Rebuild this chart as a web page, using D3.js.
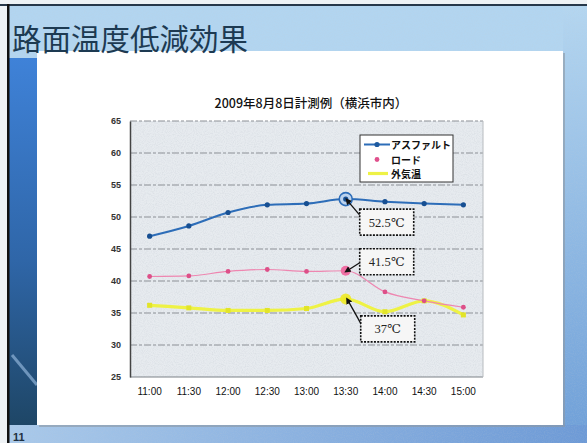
<!DOCTYPE html>
<html><head><meta charset="utf-8">
<script src="https://cdn.jsdelivr.net/npm/d3@7"></script>
<style>html,body{margin:0;padding:0;background:#fff;}svg{display:block;}</style>
</head><body>
<script>
const categories = ["11:00","11:30","12:00","12:30","13:00","13:30","14:00","14:30","15:00"];
const asphalt = [47.0, 48.6, 50.7, 51.9, 52.1, 52.8, 52.4, 52.1, 51.9];
const road    = [40.7, 40.8, 41.5, 41.8, 41.5, 41.6, 38.3, 36.9, 35.9];
const airTemp = [36.2, 35.8, 35.4, 35.4, 35.7, 37.2, 35.2, 36.9, 34.7];
const yTicks = [25, 30, 35, 40, 45, 50, 55, 60, 65];
const seriesNames = ["アスファルト", "ロード", "外気温"];
const callouts = [
  {series: 0, index: 5, label: "52.5℃"},
  {series: 1, index: 5, label: "41.5℃"},
  {series: 2, index: 5, label: "37℃"}
];
const slideTitle = "路面温度低減効果";
const chartTitle = "2009年8月8日計測例（横浜市内）";
const pageNumber = "11";

const W = 587, H = 443;
const svg = d3.select("body").append("svg").attr("width", W).attr("height", H);
const defs = svg.append("defs");

const noise = defs.append("filter").attr("id","noise").attr("x",0).attr("y",0).attr("width","100%").attr("height","100%");
noise.append("feTurbulence").attr("type","fractalNoise").attr("baseFrequency","0.9").attr("numOctaves",2).attr("seed",3).attr("result","t");
noise.append("feColorMatrix").attr("in","t").attr("type","matrix")
  .attr("values","0 0 0 0 0.55  0 0 0 0 0.6  0 0 0 0 0.65  0 0 0 0.9 -0.35").attr("result","n");
noise.append("feComposite").attr("in","n").attr("in2","SourceGraphic").attr("operator","in");

const lg = defs.append("linearGradient").attr("id","leftband").attr("x1",0).attr("y1",0).attr("x2",0).attr("y2",1);
lg.append("stop").attr("offset","0%").attr("stop-color","#3f82d8");
lg.append("stop").attr("offset","55%").attr("stop-color","#2f66a8");
lg.append("stop").attr("offset","100%").attr("stop-color","#1e4666");

const rg = defs.append("linearGradient").attr("id","rightband").attr("x1",0).attr("y1",0).attr("x2",0).attr("y2",1);
rg.append("stop").attr("offset","0%").attr("stop-color","#b4d6f0");
rg.append("stop").attr("offset","100%").attr("stop-color","#6e9fd8");

const bg = defs.append("linearGradient").attr("id","bottomband").attr("x1",0).attr("y1",0).attr("x2",1).attr("y2",0);
bg.append("stop").attr("offset","0%").attr("stop-color","#a9c9ea");
bg.append("stop").attr("offset","100%").attr("stop-color","#6d9ad6");

svg.append("rect").attr("width",W).attr("height",H).attr("fill","#eef2f5");
svg.append("rect").attr("x",9).attr("y",5).attr("width",W-9).attr("height",H-5).attr("fill","#b2d5f0");
svg.append("rect").attr("x",563).attr("y",5).attr("width",24).attr("height",H-5).attr("fill","url(#rightband)");
svg.append("rect").attr("x",9).attr("y",425).attr("width",W-9).attr("height",18).attr("fill","url(#bottomband)");
svg.append("rect").attr("x",9).attr("y",5).attr("width",W-9).attr("height",H-5).attr("fill","#ffffff").attr("filter","url(#noise)").attr("opacity",0.35);
svg.append("rect").attr("x",9).attr("y",58).attr("width",28).attr("height",367).attr("fill","url(#leftband)");
svg.append("line").attr("x1",12).attr("y1",355).attr("x2",37).attr("y2",385).attr("stroke","#8fb3d8").attr("stroke-width",3).attr("opacity",0.7);
svg.append("rect").attr("x",0).attr("y",4).attr("width",W).attr("height",2).attr("fill","#27384a");
svg.append("rect").attr("x",7).attr("y",4).attr("width",2.5).attr("height",H-4).attr("fill","#111");

svg.append("rect").attr("x",39).attr("y",53).attr("width",526).attr("height",374).attr("fill","#8c98a4").attr("opacity",0.6);
svg.append("rect").attr("x",37).attr("y",51).attr("width",526).attr("height",374).attr("fill","#ffffff");

svg.append("text").attr("x",12).attr("y",50).text(slideTitle)
  .attr("font-family","'Noto Sans CJK JP', sans-serif").attr("font-size",29.5).attr("font-weight",400)
  .attr("fill","#1d3a52");

svg.append("text").attr("x",13).attr("y",441).text(pageNumber)
  .attr("font-family","Liberation Sans, Arial, sans-serif").attr("font-size",11).attr("font-weight","bold").attr("fill","#1f3040");

const plot = {left:130, right:483, top:121, bottom:377};
const x = d3.scaleBand().domain(categories).range([plot.left, plot.right]);
const y = d3.scaleLinear().domain([25,65]).range([plot.bottom, plot.top]);
const cx = d => x(d) + x.bandwidth()/2;

svg.append("text").attr("x",311).attr("y",108).attr("text-anchor","middle").text(chartTitle)
  .attr("font-family","'Noto Sans CJK JP', sans-serif").attr("font-size",12.5).attr("font-weight",500).attr("fill","#111");

svg.append("rect").attr("x",plot.left).attr("y",plot.top).attr("width",plot.right-plot.left).attr("height",plot.bottom-plot.top)
  .attr("fill","#e7ebef");
svg.append("rect").attr("x",plot.left).attr("y",plot.top).attr("width",plot.right-plot.left).attr("height",plot.bottom-plot.top)
  .attr("fill","#ffffff").attr("filter","url(#noise)").attr("opacity",0.8);

svg.append("g").selectAll("line").data(yTicks.filter(v => v > 25)).join("line")
  .attr("x1",plot.left).attr("x2",plot.right).attr("y1",d=>y(d)).attr("y2",d=>y(d))
  .attr("stroke","#8b9096").attr("stroke-width",1.2).attr("stroke-dasharray","7,2,3,2");
svg.append("line").attr("x1",plot.left).attr("x2",plot.right).attr("y1",plot.bottom).attr("y2",plot.bottom)
  .attr("stroke","#7d8288").attr("stroke-width",1.2);
svg.append("line").attr("x1",plot.right).attr("x2",plot.right).attr("y1",plot.top).attr("y2",plot.bottom)
  .attr("stroke","#b8bcc0").attr("stroke-width",1);

const yAxis = svg.append("g").attr("transform",`translate(${plot.left},0)`)
  .call(d3.axisLeft(y).tickValues(yTicks).tickSize(0).tickPadding(9));
yAxis.select(".domain").attr("stroke","#444").attr("stroke-width",1.5);
yAxis.selectAll("text").attr("font-family","Liberation Sans, Arial, sans-serif").attr("font-size",9).attr("font-weight","bold").attr("fill","#333");

const xAxis = svg.append("g").attr("transform",`translate(0,${plot.bottom})`)
  .call(d3.axisBottom(x).tickSize(0).tickPadding(11));
xAxis.select(".domain").remove();
xAxis.selectAll("text").attr("font-family","Liberation Sans, Arial, sans-serif").attr("font-size",10).attr("fill","#111");

const series = [
  {name: seriesNames[0], values: asphalt, color:"#2d6db8", width:2, dot:"#1d5aa0"},
  {name: seriesNames[1], values: road,    color:"#ee86b0", width:1.2, dot:"#e0508c"},
  {name: seriesNames[2], values: airTemp, color:"#eef245", width:3.2, dot:"#e6e82a"}
];
const line = d3.line().x((d,i)=>cx(categories[i])).y(d=>y(d)).curve(d3.curveMonotoneX);

series.slice().reverse().forEach((s) => {
  svg.append("path").datum(s.values).attr("d", line).attr("fill","none")
    .attr("stroke", s.color).attr("stroke-width", s.width).attr("stroke-linejoin","round");
});
svg.append("g").selectAll("rect").data(airTemp).join("rect")
  .attr("x",(d,i)=>cx(categories[i])-2.5).attr("y",d=>y(d)-2.5).attr("width",5).attr("height",5)
  .attr("fill","#e2e428");
svg.append("g").selectAll("circle").data(road).join("circle")
  .attr("cx",(d,i)=>cx(categories[i])).attr("cy",d=>y(d)).attr("r",2.4).attr("fill","#dd4f88");
svg.append("g").selectAll("circle").data(asphalt).join("circle")
  .attr("cx",(d,i)=>cx(categories[i])).attr("cy",d=>y(d)).attr("r",2.6).attr("fill","#174f92");

const hi = callouts.map(c => ({...c, px: cx(categories[c.index]), py: y(series[c.series].values[c.index])}));
svg.append("circle").attr("cx",hi[2].px).attr("cy",hi[2].py).attr("r",5.5).attr("fill","#eeea28").attr("opacity",0.9);
svg.append("circle").attr("cx",hi[1].px).attr("cy",hi[1].py).attr("r",5).attr("fill","#ef6fa4");
svg.append("circle").attr("cx",hi[0].px).attr("cy",hi[0].py).attr("r",6.5).attr("fill","#bcd3ee").attr("stroke","#2d6db8").attr("stroke-width",1.6);
svg.append("circle").attr("cx",hi[0].px).attr("cy",hi[0].py).attr("r",2.6).attr("fill","#174f92");

const boxOffsets = [
  {dx: 14, dy: 10, lx: 14, ly: 16},
  {dx: 14, dy: -22, lx: 14, ly: -8},
  {dx: 15, dy: 17, lx: 17, ly: 28}
];
defs.append("marker").attr("id","arr").attr("viewBox","0 0 10 10").attr("refX",2).attr("refY",5)
  .attr("markerWidth",5).attr("markerHeight",5).attr("orient","auto-start-reverse")
  .append("path").attr("d","M0,0 L10,5 L0,10 z").attr("fill","#111");
hi.forEach((h,k) => {
  const o = boxOffsets[k];
  const bx = h.px + o.dx, by = h.py + o.dy;
  svg.append("line").attr("x1",h.px+3).attr("y1",h.py + (o.ly>0?3:-1)).attr("x2",h.px+o.lx).attr("y2",h.py+o.ly)
    .attr("stroke","#111").attr("stroke-width",1.3).attr("marker-start","url(#arr)");
  svg.append("rect").attr("x",bx).attr("y",by).attr("width",54).attr("height",26)
    .attr("fill","#f6f6f6").attr("stroke","#111").attr("stroke-width",1.6).attr("stroke-dasharray","2,1.3");
  svg.append("text").attr("x",bx+27).attr("y",by+17.5).attr("text-anchor","middle").text(h.label)
    .attr("font-family","'Liberation Serif', 'DejaVu Serif', serif").attr("font-size",12.5).attr("fill","#222");
});

const leg = svg.append("g").attr("transform","translate(360,135)");
leg.append("rect").attr("width",93).attr("height",47).attr("fill","#ffffff").attr("stroke","#333").attr("stroke-width",1);
const rows = [9.5, 24.5, 38.5];
leg.append("line").attr("x1",4).attr("x2",30).attr("y1",rows[0]).attr("y2",rows[0]).attr("stroke",series[0].color).attr("stroke-width",2);
leg.append("circle").attr("cx",17).attr("cy",rows[0]).attr("r",2.6).attr("fill",series[0].dot);
leg.append("circle").attr("cx",17).attr("cy",rows[1]).attr("r",2.4).attr("fill",series[1].dot);
leg.append("line").attr("x1",8).attr("x2",28).attr("y1",rows[2]).attr("y2",rows[2]).attr("stroke",series[2].color).attr("stroke-width",3.2);
leg.selectAll("text.l").data(seriesNames).join("text").attr("class","l")
  .attr("x",31).attr("y",(d,i)=>rows[i]+4).text(d=>d)
  .attr("font-family","'Noto Sans CJK JP', sans-serif").attr("font-size",10).attr("font-weight","bold").attr("fill","#111");
</script>
</body></html>
